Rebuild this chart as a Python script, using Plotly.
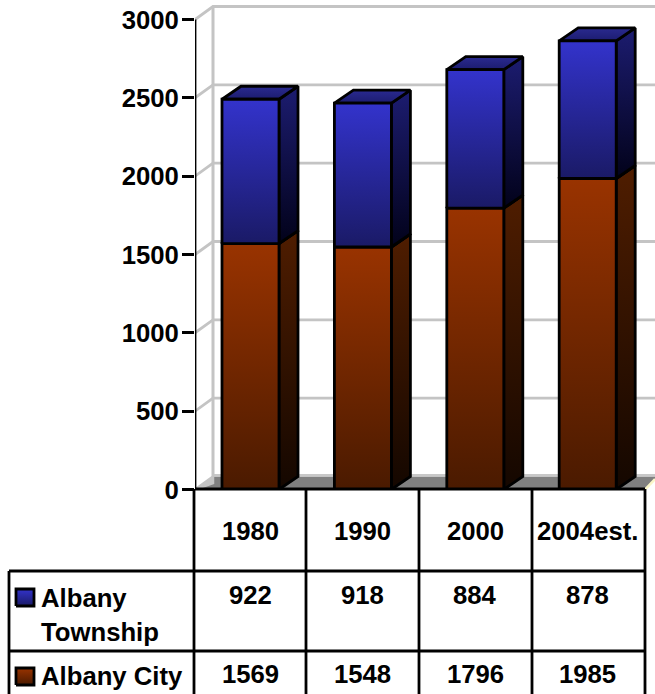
import plotly.graph_objects as go

# Population counts by census year
years = ["1980", "1990", "2000", "2004est."]
township = [922, 918, 884, 878]
city = [1569, 1548, 1796, 1985]
y_ticks = [0, 500, 1000, 1500, 2000, 2500, 3000]

FONT = "Liberation Sans, Arial, sans-serif"
W, H = 655, 694
LEFT, BOTTOM = 195, 204.5

# Axis scales: one category step is 112.4 px, 3000 people span 470 px
STEP_PX = 112.4
PX_PER_UNIT = 470 / 3000
X0 = (LEFT - 250.5) / STEP_PX
X1 = (W - 250.5) / STEP_PX
Y1 = (H - BOTTOM) / PX_PER_UNIT

BAR_HALF = 28.5 / STEP_PX
DX = 19 / STEP_PX          # bar depth, horizontal
DY = 13 / PX_PER_UNIT      # bar depth, vertical
WALL_DX = 18 / STEP_PX
WALL_DY = 13 / PX_PER_UNIT
FRONT_END = (645 - 250.5) / STEP_PX

GRID = "#c4c4c4"
OUTLINE = 2.8

fig = go.Figure()


def poly(xs, ys, fill=None, grad=None, line_w=OUTLINE, line="#000000", axes=("x", "y")):
    """Closed polygon with a flat or vertical gradient fill."""
    kw = dict(
        x=list(xs) + [xs[0]], y=list(ys) + [ys[0]],
        mode="lines", fill="toself",
        line=dict(color=line, width=line_w, shape="linear"),
        hoverinfo="skip", showlegend=False, xaxis=axes[0], yaxis=axes[1],
    )
    if grad:
        low, high, c_low, c_high = grad
        kw["fillgradient"] = dict(
            type="vertical", start=low, stop=high,
            colorscale=[[0, c_low], [1, c_high]],
        )
    else:
        kw["fillcolor"] = fill
    fig.add_trace(go.Scatter(**kw))


def seg(xs, ys, color, width):
    fig.add_trace(go.Scatter(
        x=xs, y=ys, mode="lines", line=dict(color=color, width=width),
        hoverinfo="skip", showlegend=False, xaxis="x", yaxis="y",
    ))


# Floor of the 3D box
poly([X0, FRONT_END, X1 + 0.02, X0 + WALL_DX],
     [0, 0, WALL_DY, WALL_DY], fill="#808080", line_w=0)
seg([X0 + WALL_DX, X1], [WALL_DY + 8, WALL_DY + 8], "#c8c8c8", 2.5)
seg([FRONT_END, X1], [0, WALL_DY * 0.8], "#fbf6c8", 2.5)
poly([X0, X0 + WALL_DX, X0 + WALL_DX], [0, WALL_DY, WALL_DY * 0.5],
     fill="#c4c4c4", line_w=2.5, line="#c4c4c4")

# Back wall and side wall gridlines
seg([X0 + WALL_DX, X0 + WALL_DX], [WALL_DY, 3000 + WALL_DY], GRID, 3)
for t in y_ticks[1:]:
    seg([X0, X0 + WALL_DX, X1], [t, t + WALL_DY, t + WALL_DY], GRID, 2.8)

# Stacked 3D bars: side, top and front faces
SERIES_COLORS = [
    ("#993300", "#4a1a00", "#4f1d00", "#140700"),   # city
    ("#3333cc", "#1a1a66", "#1c1c70", "#02021a"),   # township
]
for i in range(len(years)):
    left, right = i - BAR_HALF, i + BAR_HALF
    stacks = [(0, city[i]), (city[i], city[i] + township[i])]
    for (low, high), (top_c, bot_c, side_top, side_bot) in zip(stacks, SERIES_COLORS):
        poly([right, right + DX, right + DX, right],
             [low, low + DY, high + DY, high],
             grad=(low, high + DY, side_bot, side_top))
        poly([left, right, right + DX, left + DX],
             [high, high, high + DY, high + DY],
             grad=(high, high + DY, side_top, "#2a2a90" if low else "#7a2a00"))
        poly([left, right, right, left], [low, low, high, high],
             grad=(low, high, bot_c, top_c))

# Value axis line, stopping at the top tick
seg([X0, X0], [0, 3000], "#000000", 2.8)

# Table grid, in figure pixels
h_lines = [(489, 195, 645), (571, 9, 645), (651, 9, 645)]
v_lines = [(9, 571, 694), (194, 489, 694), (306, 489, 694),
           (419, 489, 694), (532, 489, 694), (645, 489, 694)]
shapes = []
for y, a, b in h_lines:
    shapes.append(dict(type="line", xref="x2", yref="y2", x0=a, x1=b, y0=y, y1=y,
                       line=dict(color="#000000", width=2.8)))
for x, a, b in v_lines:
    shapes.append(dict(type="line", xref="x2", yref="y2", x0=x, x1=x, y0=a, y1=b,
                       line=dict(color="#000000", width=2.8)))

# Table text
TABLE_SIZE = 25.7
col_centers = [250, 362.5, 475, 587.5]
annotations = []


def label(x, y, text, anchor="center", size=TABLE_SIZE):
    annotations.append(dict(
        xref="x2", yref="y2", x=x, y=y, text=text, showarrow=False,
        xanchor=anchor, yanchor="middle", borderpad=0,
        font=dict(family=FONT, size=size, color="#000000"),
    ))


for cx, yr, t, c in zip(col_centers, years, township, city):
    label(cx, 531, f"<b>{yr}</b>")
    label(cx, 595, f"<b>{t}</b>")
    label(cx, 674, f"<b>{c}</b>")
label(40, 598, "<b>Albany</b>", "left")
label(40, 632, "<b>Township</b>", "left")
label(40, 676, "<b>Albany City</b>", "left")

# Legend keys inside the table
KEY_L, KEY_R = 16, 34
for top, (top_c, bot_c, _, _) in [(589, SERIES_COLORS[1]), (668, SERIES_COLORS[0])]:
    bottom = top + 17
    poly([KEY_L, KEY_R, KEY_R, KEY_L], [bottom, bottom, top, top],
         grad=(bottom, top, bot_c, top_c), axes=("x2", "y2"))

fig.update_layout(
    width=W, height=H, autosize=False,
    margin=dict(l=0, r=0, t=0, b=0, pad=0, autoexpand=False),
    paper_bgcolor="#ffffff", plot_bgcolor="rgba(0,0,0,0)",
    showlegend=False, shapes=shapes, annotations=annotations,
    font=dict(family=FONT, color="#000000"),
    xaxis=dict(range=[X0, X1], showgrid=False, zeroline=False, showticklabels=False,
               ticks="", showline=False, fixedrange=True, automargin=False,
               domain=[LEFT / W, 1], anchor="y"),
    yaxis=dict(range=[0, Y1], showgrid=False, zeroline=False, showline=False,
               tickmode="array", tickvals=y_ticks,
               ticktext=[f"<b>{t}</b>" for t in y_ticks],
               ticks="outside", ticklen=12, tickwidth=2.8, tickcolor="#000000",
               tickfont=dict(family=FONT, size=25.7, color="#000000"),
               ticklabelstandoff=-2, automargin=False,
               fixedrange=True, domain=[BOTTOM / H, 1], anchor="x"),
    # Full-page pixel axes that hold the table beneath the chart
    xaxis2=dict(range=[0, W], domain=[0, 1], anchor="y2", visible=False, fixedrange=True, automargin=False),
    yaxis2=dict(range=[H, 0], domain=[0, 1], anchor="x2", visible=False, fixedrange=True, automargin=False),
)

fig.write_html("out.html", config=dict(displayModeBar=False))
